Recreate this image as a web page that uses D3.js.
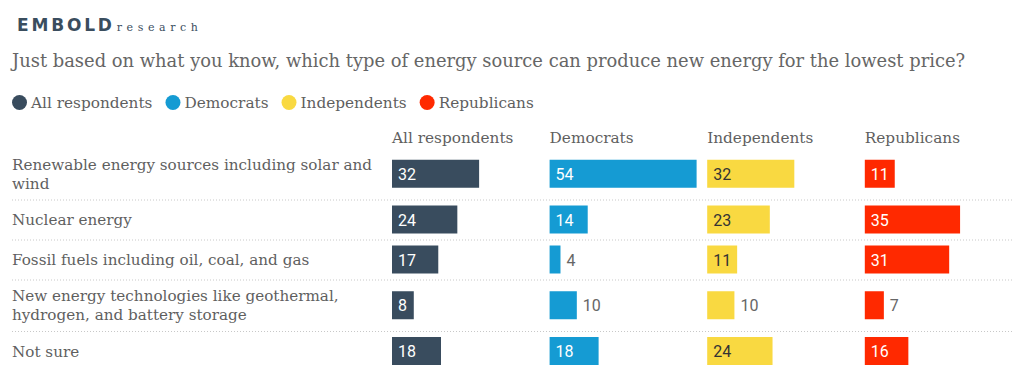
<!DOCTYPE html>
<html>
<head>
<meta charset="utf-8">
<script src="https://cdn.jsdelivr.net/npm/d3@7"></script>
<style>
  body { margin: 0; background: #fff; }
</style>
</head>
<body>
<svg id="chart"></svg>
<script>
// Data
const groups = ["All respondents", "Democrats", "Independents", "Republicans"];
const groupColors = ["#394c5e", "#159bd3", "#f9d941", "#ff2900"];
const categories = [
  "Renewable energy sources including solar and\nwind",
  "Nuclear energy",
  "Fossil fuels including oil, coal, and gas",
  "New energy technologies like geothermal,\nhydrogen, and battery storage",
  "Not sure"
];
const allRespondents = [32, 24, 17, 8, 18];
const democrats = [54, 14, 4, 10, 18];
const independents = [32, 23, 11, 10, 24];
const republicans = [11, 35, 31, 7, 16];
const seriesValues = [allRespondents, democrats, independents, republicans];

const W = 1024, H = 377;
const serif = "'DejaVu Serif', serif";
const sans = "Roboto, sans-serif";
const textColor = "#5f5f5f";

const svg = d3.select("#chart").attr("width", W).attr("height", H);

// Logo
const logo = svg.append("text")
  .attr("x", 17).attr("y", 30.5)
  .style("font-family", "'DejaVu Sans', sans-serif")
  .style("font-weight", "bold")
  .style("font-size", "17px")
  .style("letter-spacing", "2.8px")
  .attr("fill", "#3a4d5e")
  .text("EMBOLD");
svg.append("text")
  .attr("x", 17 + logo.node().getComputedTextLength() + 2)
  .attr("y", 30.5)
  .style("font-family", serif)
  .style("font-size", "11px")
  .style("letter-spacing", "4.6px")
  .attr("fill", "#3a4d5e")
  .text("research");

// Title
svg.append("text")
  .attr("x", 12).attr("y", 67)
  .style("font-family", serif)
  .style("font-size", "17.9px")
  .attr("fill", "#666")
  .text("Just based on what you know, which type of energy source can produce new energy for the lowest price?");

// Legend
let lx = 12;
groups.forEach((g, i) => {
  svg.append("circle")
    .attr("cx", lx + 7.5).attr("cy", 102.5).attr("r", 7.5)
    .attr("fill", groupColors[i]);
  const t = svg.append("text")
    .attr("x", lx + 19).attr("y", 108)
    .style("font-family", serif)
    .style("font-size", "15.3px")
    .attr("fill", textColor)
    .text(g);
  lx += 19 + t.node().getComputedTextLength() + 13;
});

// Column scale and bar scale
const col = d3.scaleBand()
  .domain(groups)
  .range([392, 392 + 4 * 157.6]);
const x = d3.scaleLinear()
  .domain([0, 54])
  .range([0, 147]);

// Column headers
svg.selectAll(".colhead")
  .data(groups)
  .enter()
  .append("text")
  .attr("class", "colhead")
  .attr("x", d => col(d))
  .attr("y", 143)
  .style("font-family", serif)
  .style("font-size", "15.3px")
  .attr("fill", textColor)
  .text(d => d);

// Row layout: taller rows for two-line labels
const rows = [];
let y0 = 148;
categories.forEach((c, i) => {
  const lines = c.split("\n");
  const h = lines.length > 1 ? 51.5 : 40;
  rows.push({ label: c, lines: lines, top: y0, h: h, i: i });
  y0 += h;
});

// Separators
svg.selectAll(".sep")
  .data(rows.slice(0, -1))
  .enter()
  .append("line")
  .attr("class", "sep")
  .attr("x1", 12).attr("x2", 1012)
  .attr("y1", d => d.top + d.h + 0.5)
  .attr("y2", d => d.top + d.h + 0.5)
  .attr("stroke", "#c8c8c8")
  .attr("stroke-width", 1)
  .attr("stroke-dasharray", "1,2");

// Row labels
const lineH = 19;
rows.forEach(r => {
  const cy = r.top + r.h / 2;
  const startY = cy - (r.lines.length - 1) * lineH / 2 + 5.5;
  const t = svg.append("text")
    .style("font-family", serif)
    .style("font-size", "15.2px")
    .attr("fill", textColor);
  r.lines.forEach((ln, k) => {
    t.append("tspan")
      .attr("x", 12)
      .attr("y", startY + k * lineH)
      .text(ln);
  });
});

// Bars and value labels
const barH = 28;
groups.forEach((g, gi) => {
  const vals = seriesValues[gi];
  const data = rows.map((r, ri) => ({ v: vals[ri], r: r }));
  const layer = svg.append("g");

  layer.selectAll("rect")
    .data(data)
    .enter()
    .append("rect")
    .attr("x", col(g))
    .attr("y", d => d.r.top + d.r.h / 2 - barH / 2)
    .attr("width", d => x(d.v))
    .attr("height", barH)
    .attr("fill", groupColors[gi]);

  layer.selectAll("text")
    .data(data)
    .enter()
    .append("text")
    .each(function(d) {
      const w = x(d.v);
      const inside = w >= String(d.v).length * 8.5 + 12;
      d3.select(this)
        .attr("x", inside ? col(g) + 6 : col(g) + w + 6)
        .attr("fill", inside ? (gi === 2 ? "#333" : "#fff") : "#666");
    })
    .attr("y", d => d.r.top + d.r.h / 2 + 6)
    .style("font-family", sans)
    .style("font-size", "16px")
    .text(d => d.v);
});
</script>
</body>
</html>
